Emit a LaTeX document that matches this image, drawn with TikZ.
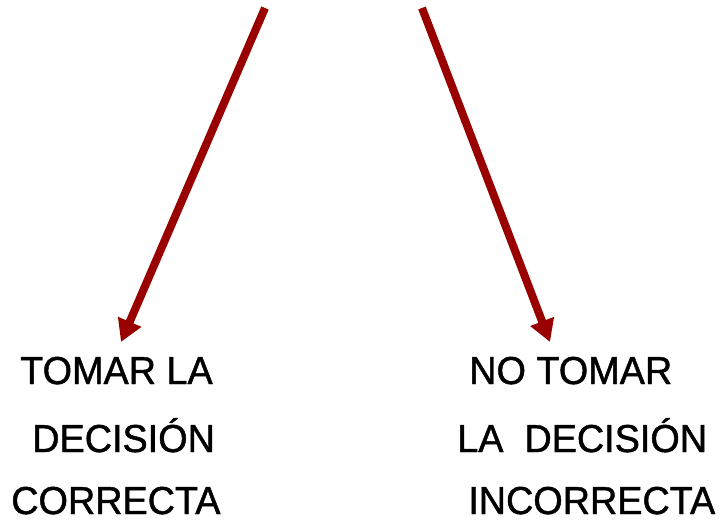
\documentclass[tikz,border=0pt]{standalone}
\usepackage{fontspec}
\usepackage{tikz}
\usetikzlibrary{arrows.meta}
\newfontfamily\rotulo{Liberation Sans}[FakeStretch=0.97,FakeBold=1.2]
\definecolor{flecha}{RGB}{153,0,0}
\tikzstyle{texto}=[font=\rotulo\fontsize{27.7}{33}\selectfont, anchor=base west, inner sep=0pt]
\tikzstyle{rama}=[draw=flecha, line width=5.7pt, -{Triangle[length=0.55cm,width=0.6cm]}]

\begin{document}
\begin{tikzpicture}[x=0.025cm, y=-0.025cm]
    \useasboundingbox (0,0) rectangle (719,521);
    % puntos de partida y llegada de las flechas
    \coordinate (arribaIzq) at (265,8);
    \coordinate (arribaDer) at (422,8);
    \coordinate (puntaIzq)  at (121,342);
    \coordinate (puntaDer)  at (550,342);

    \node [texto] (tomar)      at (20,384)  {TOMAR LA};
    \node [texto] (decision)   at (32,452)  {DECISIÓN};
    \node [texto] (correcta)   at (11,514)  {CORRECTA};

    \node [texto] (notomar)    at (469,384) {NO TOMAR};
    \node [texto] (ladecision) at (457,452) {LA~~DECISIÓN};
    \node [texto] (incorrecta) at (468,514) {INCORRECTA};

    \draw [rama] (arribaIzq) -- (puntaIzq);
    \draw [rama] (arribaDer) -- (puntaDer);
  \end{tikzpicture}
\end{document}
